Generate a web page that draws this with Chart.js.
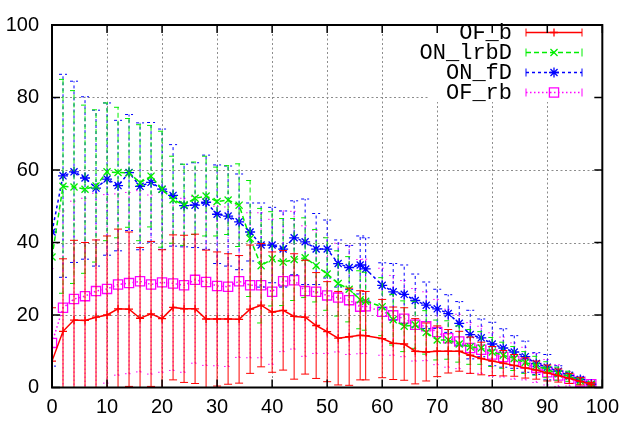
<!DOCTYPE html>
<html>
<head>
<meta charset="utf-8">
<script src="https://cdn.jsdelivr.net/npm/chart.js@4.4.0/dist/chart.umd.min.js"></script>
<style>html,body{margin:0;padding:0;background:#fff}</style>
</head>
<body>
<canvas id="chart" width="627" height="421"></canvas>
<script>
// x positions of the samples (note 57 instead of 58)
const xs = [0,2,4,6,8,10,12,14,16,18,20,22,24,26,28,30,32,34,36,38,40,42,44,46,48,50,52,54,56,57,
            60,62,64,66,68,70,72,74,76,78,80,82,84,86,88,90,92,94,96,98];

const ofB = [7.3,15.5,18.6,18.5,19.4,20.0,21.7,21.6,19.1,20.3,19.0,22.1,21.7,21.7,18.9,18.9,18.9,18.8,21.6,22.7,
             20.8,21.3,19.6,19.4,17.1,15.4,13.6,14.0,14.4,14.3,13.5,12.2,12.0,10.0,9.8,10.0,10.0,10.0,8.9,8.0,
             7.3,6.7,6.1,5.4,4.8,4.0,3.3,2.5,1.7,0.9];
const ofBErr = [14.7,20,22,21.5,21.3,21.8,22,21.3,19.5,20,19,20,20.3,20.6,19,18.5,18,17.6,17.7,17,
                16.6,16.5,17.3,15.7,14.6,13.8,12.9,13.4,12.3,12.2,10.8,10,10,9,8,7,6,5.5,5,4.5,
                4,3.5,3,2.8,2.5,2.2,1.8,1.4,1,0.5];

const onLrbD = [36,55.5,55.3,54.7,55.6,59.5,59.3,59.2,56.5,58.3,54.7,51.8,50.4,52.2,52.8,51.3,51.7,50.3,41.1,33.6,
                35.5,34.6,35.3,35.8,33.6,31.3,28.7,27.1,24.2,23.8,22.3,18.7,16.9,17.3,15.2,13.1,13.1,12,11.2,10.9,
                9.8,8.9,8,6.9,6,4.9,3.8,3.1,1.8,0.9];
const onLrbDErr = [36,29.5,26.6,23.2,21,19,18,15,16,14,16,12,11.2,10,11,9.5,9.5,11.4,16,15.8,
                   13,12,11.3,11,10,10,9,9,8,8,8,7,7,6.5,6,5.5,5.3,5,4.8,4.5,
                   4,3.6,3.3,3,2.6,2.2,1.8,1.4,1,0.5];

const onFD = [42.9,58.4,59.5,57.8,55,57.5,55.7,59.3,55.5,56.6,54.7,53,50.2,50.3,51.1,47.8,47.3,45.7,42.9,39.3,
              39.3,38.2,41.3,40.2,38.2,38.2,34.2,33.1,33.8,32.7,28.2,26.4,25.7,24,22.7,21.7,20.4,17.7,14.6,13.7,
              12,10.9,9.8,8.5,6.6,5.6,4.5,3.3,2.2,0.9];
const onFDErr = [37,28,25,22.4,21.5,21,18,16,17.5,16.5,16.6,14,11.4,11.7,13,13.6,13.8,13.2,8,11.6,
                 10.4,10.5,10.2,11.8,9.8,8,6.5,6.1,8,8.6,6.2,7.8,8.1,7.3,6.4,5.4,5.2,6,6.7,5.2,
                 6,5.3,4.5,4.3,3,3.5,1.5,0.9,0.5,0.3];

const ofRb = [12.3,22,24.4,25.2,26.6,27.2,28.4,28.8,29.3,28.4,29,28.7,28.2,29.7,29.1,28,27.8,29.3,28.2,28.2,
              26.4,29.3,29.6,26.6,26.4,25.4,24.8,24.1,22.3,22.4,20.9,19.9,19,17.3,16.9,15.3,13.6,12.7,10.9,10.4,
              9.1,8.4,7.3,6.6,5.4,4.2,3.3,2.4,1.6,0.9];
const ofRbErr = [20.5,26.7,27,27,27,26,25,25,25,24.7,24.8,24,24,23,23,22,22,21,20,20,
                 20,19.4,19,18,17,16,15,15,13,13,12,11,10.5,10,9.5,9,8,7.5,7,6.5,
                 6,5.5,5,4.5,4,3.5,3,2,1.5,0.8];

const xTicks = [0,10,20,30,40,50,60,70,80,90,100];
const yTicks = [0,20,40,60,80,100];

function makeSet(label, ys, errs, color, dash, style, radius) {
  return {
    label: label,
    data: xs.map((x, i) => ({x: x, y: ys[i]})),
    errors: errs,
    borderColor: color,
    backgroundColor: 'rgba(0,0,0,0)',
    borderWidth: 1.5,
    borderDash: dash,
    pointStyle: style,
    pointRadius: radius,
    pointBorderWidth: 1.3,
    pointBorderColor: color,
    pointBackgroundColor: 'rgba(0,0,0,0)',
    tension: 0,
    fill: false
  };
}

// dotted grey grid, drawn under the data
const dottedGrid = {
  id: 'dottedGrid',
  beforeDatasetsDraw(chart) {
    const {ctx, chartArea: a} = chart;
    const x = chart.scales.x, y = chart.scales.y;
    ctx.save();
    ctx.strokeStyle = '#8c8c8c';
    ctx.lineWidth = 1;
    ctx.setLineDash([2, 2.5]);
    xTicks.slice(1, -1).forEach(v => {
      const px = Math.round(x.getPixelForValue(v)) + 0.5;
      ctx.beginPath();
      ctx.moveTo(px, a.top); ctx.lineTo(px, a.bottom);
      ctx.stroke();
    });
    yTicks.slice(1, -1).forEach(v => {
      const py = Math.round(y.getPixelForValue(v)) + 0.5;
      ctx.beginPath();
      ctx.moveTo(a.left, py); ctx.lineTo(a.right, py);
      ctx.stroke();
    });
    ctx.restore();
  }
};

// vertical error bars with caps, drawn just before each dataset's line
const errorBars = {
  id: 'errorBars',
  beforeDatasetDraw(chart, args) {
    const ds = chart.data.datasets[args.index];
    const {ctx, chartArea: a} = chart;
    const x = chart.scales.x, y = chart.scales.y;
    ctx.save();
    ctx.beginPath();
    ctx.rect(a.left, a.top, a.right - a.left, a.bottom - a.top);
    ctx.clip();
    ctx.strokeStyle = ds.borderColor;
    ctx.lineWidth = 1;
    ctx.setLineDash(ds.borderDash);
    ds.data.forEach((p, i) => {
      const e = ds.errors[i];
      const px = x.getPixelForValue(p.x);
      const lo = y.getPixelForValue(p.y - e);
      const hi = y.getPixelForValue(p.y + e);
      ctx.beginPath();
      ctx.moveTo(px, lo); ctx.lineTo(px, hi);
      ctx.moveTo(px - 4, lo); ctx.lineTo(px + 4, lo);
      ctx.moveTo(px - 4, hi); ctx.lineTo(px + 4, hi);
      ctx.stroke();
    });
    ctx.restore();
  }
};

// gnuplot-like key: right aligned text, sample line with caps and a point
const keyBox = {
  id: 'keyBox',
  afterDatasetsDraw(chart) {
    const ctx = chart.ctx;
    ctx.save();
    ctx.fillStyle = '#fff';
    ctx.fillRect(428, 15, 168, 87);
    chart.data.datasets.forEach((ds, i) => {
      const ry = 32.5 + i * 20;
      ctx.fillStyle = '#000';
      ctx.font = '22px "Liberation Mono"';
      ctx.textAlign = 'right';
      ctx.textBaseline = 'middle';
      ctx.fillText(ds.label, 512, ry + 1);
      ctx.strokeStyle = ds.borderColor;
      ctx.lineWidth = 1.5;
      ctx.setLineDash(ds.borderDash);
      ctx.beginPath();
      ctx.moveTo(526, ry); ctx.lineTo(582, ry);
      ctx.stroke();
      ctx.setLineDash([]);
      ctx.lineWidth = 1;
      ctx.beginPath();
      ctx.moveTo(526, ry - 4); ctx.lineTo(526, ry + 4);
      ctx.moveTo(582, ry - 4); ctx.lineTo(582, ry + 4);
      ctx.stroke();
      ctx.lineWidth = 1.3;
      ctx.fillStyle = 'rgba(0,0,0,0)';
      Chart.helpers.drawPoint(ctx, {pointStyle: ds.pointStyle, radius: ds.pointRadius, rotation: 0, borderWidth: 1.3}, 554, ry);
    });
    ctx.restore();
  }
};

// border box and inward ticks on all four sides
const frame = {
  id: 'frame',
  afterDraw(chart) {
    const {ctx, chartArea: a} = chart;
    const x = chart.scales.x, y = chart.scales.y;
    ctx.save();
    ctx.strokeStyle = '#000';
    ctx.lineWidth = 1.5;
    xTicks.forEach(v => {
      const px = x.getPixelForValue(v);
      ctx.beginPath();
      ctx.moveTo(px, a.bottom); ctx.lineTo(px, a.bottom - 8);
      ctx.moveTo(px, a.top); ctx.lineTo(px, a.top + 8);
      ctx.stroke();
    });
    yTicks.forEach(v => {
      const py = y.getPixelForValue(v);
      ctx.beginPath();
      ctx.moveTo(a.left, py); ctx.lineTo(a.left + 8, py);
      ctx.moveTo(a.right, py); ctx.lineTo(a.right - 8, py);
      ctx.stroke();
    });
    ctx.lineWidth = 2;
    ctx.strokeRect(a.left, a.top, a.right - a.left, a.bottom - a.top);
    ctx.restore();
  }
};

const tickFont = {family: '"Liberation Sans", Arial, sans-serif', size: 20};

new Chart(document.getElementById('chart').getContext('2d'), {
  type: 'line',
  data: {
    datasets: [
      makeSet('OF_b', ofB, ofBErr, '#ff0000', [], 'cross', 4),
      makeSet('ON_lrbD', onLrbD, onLrbDErr, '#00ee00', [5, 3], 'crossRot', 5),
      makeSet('ON_fD', onFD, onFDErr, '#0000ff', [3, 3], 'star', 5),
      makeSet('OF_rb', ofRb, ofRbErr, '#ff00ff', [1.5, 2.5], 'rect', 6.5)
    ]
  },
  options: {
    responsive: false,
    animation: false,
    layout: {padding: {top: 13, right: 21, left: 0, bottom: 0}},
    plugins: {legend: {display: false}, tooltip: {enabled: false}},
    scales: {
      x: {
        type: 'linear', min: 0, max: 100,
        afterBuildTicks: s => { s.ticks = xTicks.map(v => ({value: v})); },
        afterFit: s => { s.height = 33.5; },
        ticks: {color: '#000', font: tickFont, padding: 8, maxRotation: 0},
        grid: {display: false, drawTicks: false},
        border: {display: false}
      },
      y: {
        type: 'linear', min: 0, max: 100,
        afterBuildTicks: s => { s.ticks = yTicks.map(v => ({value: v})); },
        afterFit: s => { s.width = 52; },
        ticks: {color: '#000', font: tickFont, padding: 13},
        grid: {display: false, drawTicks: false},
        border: {display: false}
      }
    }
  },
  plugins: [dottedGrid, errorBars, keyBox, frame]
});
</script>
</body>
</html>
